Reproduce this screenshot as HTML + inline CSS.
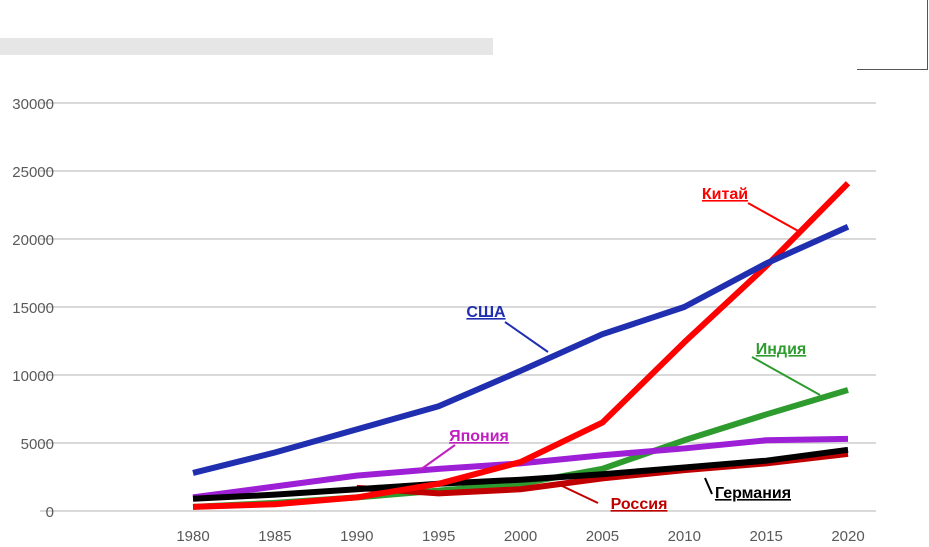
<!DOCTYPE html>
<html><head><meta charset="utf-8"><style>
body{margin:0;background:#fff;width:929px;height:547px;overflow:hidden;font-family:"Liberation Sans",sans-serif}
</style></head><body>
<div style="position:absolute;left:0;top:38px;width:493px;height:17px;background:#e6e6e6"></div>
<div style="position:absolute;left:857px;top:0;width:70px;height:69px;border-right:1px solid #555;border-bottom:1px solid #555"></div>
<svg id="c" width="929" height="547" style="position:absolute;left:0;top:0"></svg>
<script>
const years=[1980,1985,1990,1995,2000,2005,2010,2015,2020];
const yTicks=[0,5000,10000,15000,20000,25000,30000];
const usa=[2800,4300,6000,7700,10300,13000,15000,18200,20900];
const china=[300,500,1000,2000,3600,6500,12400,18000,24100];
const india=[300,600,1000,1500,2000,3100,5200,7100,8900];
const japan=[1000,1800,2600,3100,3500,4100,4600,5200,5300];
const germany=[900,1200,1600,2000,2300,2700,3200,3700,4500];
const russia=[null,null,1700,1300,1600,2400,3000,3500,4200];
const NS='http://www.w3.org/2000/svg';
const svg=document.getElementById('c');
const X=y=>193+(y-1980)*(848-193)/40;
const Y=v=>511-v*408/30000;
function el(t,a,p){const e=document.createElementNS(NS,t);for(const k in a)e.setAttribute(k,a[k]);(p||svg).appendChild(e);return e;}
yTicks.forEach(v=>{
 const g=el('line',{x1:40,x2:876,y1:Y(v),y2:Y(v),stroke:'#d9d9d9','stroke-width':2});
 
 
 const t=el('text',{x:54,y:Y(v)+6,'text-anchor':'end','font-size':15,fill:'#595959'});
 t.textContent=v;
 
 
});
years.forEach(y=>{
 const t=el('text',{x:X(y),y:541,'text-anchor':'middle','font-size':15,fill:'#595959'});
 t.textContent=y;
 
 
});
const series=[[india,'#2e9b2e','india'],[russia,'#c00000','russia'],[japan,'#9d1fd6','japan'],[germany,'#000','germany'],[china,'#ff0000','china'],[usa,'#1f2fb0','usa']];
series.forEach(([d,c,n])=>{
 const pts=[];d.forEach((v,i)=>{if(v!=null)pts.push(X(years[i])+','+Y(v));});
 const p=el('polyline',{points:pts.join(' '),fill:'none',stroke:c,'stroke-width':6,'stroke-linejoin':'round'});
 
 
});
const labels=[['Китай',725,199,'#ff0000',[748,203,800,232]],['США',486,317,'#1f2fb0',[505,322,548,352]],['Индия',781,354,'#2e9b2e',[752,357,820,395]],['Япония',479,441,'#c020c0',[455,445,420,470]],['Германия',753,498,'#000',[712,494,705,478]],['Россия',639,509,'#c00000',[598,503,560,485]]];
labels.forEach(([t,x,y,c,l])=>{
 const ln=el('line',{x1:l[0],y1:l[1],x2:l[2],y2:l[3],stroke:c,'stroke-width':2});
 
 
 const tx=el('text',{x:x,y:y,'text-anchor':'middle','font-size':16,'font-weight':'bold',fill:c,'text-decoration':'underline'});
 tx.textContent=t;
 
 
});
</script>
</body></html>
